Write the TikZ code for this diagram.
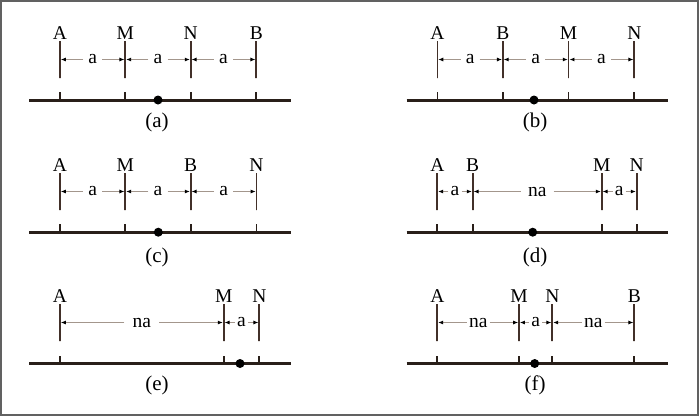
\documentclass[tikz,border=0pt]{standalone}
\usepackage{fontspec}
\setmainfont{Liberation Serif}
\usetikzlibrary{arrows.meta}

\definecolor{corbarra}{rgb}{0.16,0.12,0.10}
\definecolor{corposte}{rgb}{0.26,0.19,0.16}
\definecolor{corcota}{rgb}{0.64,0.59,0.55}
\definecolor{cormoldura}{rgb}{0.38,0.38,0.38}

\begin{document}
\begin{tikzpicture}[x=1pt, y=-1pt, font=\fontsize{19.5}{22}\selectfont,
        every label/.append style={inner sep=0pt},
        poste/.style={draw=corposte, line width=1.7pt, minimum height=37pt, minimum width=0pt, inner sep=0pt, label distance=4pt},
        rotulo/.style={inner xsep=5pt, inner ysep=0pt},
        cota/.style={draw=corcota, line width=0.9pt, -{Latex[color=black, length=5pt, width=4pt]}},
        eixo/.style={draw=corbarra, line width=3pt},
        risco/.style={draw=corbarra, line width=1.7pt},
        ponto/.style={circle, fill=black, inner sep=0pt, minimum size=9pt},
        legenda/.style={font=\fontsize{21}{24}\selectfont}]
            \useasboundingbox (0,0) rectangle (700,416);
            \draw[cormoldura, line width=2.2pt] (1.1,1.1) rectangle (697.6,414.6);

            % (a)
            \node[poste, label=above:A] (aA) at (60,59.5) {};
            \node[poste, label=above:M] (aM) at (125.3,59.5) {};
            \node[poste, label=above:N] (aN) at (190.7,59.5) {};
            \node[poste, label=above:B] (aB) at (256.3,59.5) {};
            \node[rotulo] (a1) at (92.6,59.5) {a};
            \node[rotulo] (a2) at (158,59.5) {a};
            \node[rotulo] (a3) at (223.5,59.5) {a};
            \draw[cota] (a1) -- (aA); \draw[cota] (a1) -- (aM);
            \draw[cota] (a2) -- (aM); \draw[cota] (a2) -- (aN);
            \draw[cota] (a3) -- (aN); \draw[cota] (a3) -- (aB);
            \coordinate (aL) at (29,100); \coordinate (aR) at (291,100);
            \draw[eixo] (aL) -- (aR);
            \draw[risco] (aA |- aL) -- ++(0,-8) (aM |- aL) -- ++(0,-8) (aN |- aL) -- ++(0,-8) (aB |- aL) -- ++(0,-8);
            \node[ponto] (aO) at (158,100) {};
            \node[legenda] (acap) at (157,122.5) {(a)};

            % (b)
            \node[poste, label=above:A] (bA) at (437.4,59.5) {};
            \node[poste, label=above:B] (bB) at (502.8,59.5) {};
            \node[poste, label=above:M] (bM) at (568.6,59.5) {};
            \node[poste, label=above:N] (bN) at (634.3,59.5) {};
            \node[rotulo] (b1) at (470.1,59.5) {a};
            \node[rotulo] (b2) at (535.7,59.5) {a};
            \node[rotulo] (b3) at (601.5,59.5) {a};
            \draw[cota] (b1) -- (bA); \draw[cota] (b1) -- (bB);
            \draw[cota] (b2) -- (bB); \draw[cota] (b2) -- (bM);
            \draw[cota] (b3) -- (bM); \draw[cota] (b3) -- (bN);
            \coordinate (bL) at (406.5,100); \coordinate (bR) at (668,100);
            \draw[eixo] (bL) -- (bR);
            \draw[risco] (bA |- bL) -- ++(0,-8) (bB |- bL) -- ++(0,-8) (bM |- bL) -- ++(0,-8) (bN |- bL) -- ++(0,-8);
            \node[ponto] (bO) at (534,100) {};
            \node[legenda] (bcap) at (535,122.5) {(b)};

            % (c)
            \node[poste, label=above:A] (cA) at (60,191.5) {};
            \node[poste, label=above:M] (cM) at (125.3,191.5) {};
            \node[poste, label=above:B] (cB) at (190.7,191.5) {};
            \node[poste, label=above:N] (cN) at (256.5,191.5) {};
            \node[rotulo] (c1) at (92.6,191.5) {a};
            \node[rotulo] (c2) at (158,191.5) {a};
            \node[rotulo] (c3) at (223.6,191.5) {a};
            \draw[cota] (c1) -- (cA); \draw[cota] (c1) -- (cM);
            \draw[cota] (c2) -- (cM); \draw[cota] (c2) -- (cB);
            \draw[cota] (c3) -- (cB); \draw[cota] (c3) -- (cN);
            \coordinate (cL) at (29,232.2); \coordinate (cR) at (291,232.2);
            \draw[eixo] (cL) -- (cR);
            \draw[risco] (cA |- cL) -- ++(0,-8) (cM |- cL) -- ++(0,-8) (cB |- cL) -- ++(0,-8) (cN |- cL) -- ++(0,-8);
            \node[ponto] (cO) at (158.3,232.2) {};
            \node[legenda] (ccap) at (157,257) {(c)};

            % (d)
            \node[poste, label=above:A] (dA) at (437.3,191.5) {};
            \node[poste, label=above:B] (dB) at (472.7,191.5) {};
            \node[poste, label=above:M] (dM) at (601.7,191.5) {};
            \node[poste, label=above:N] (dN) at (636.7,191.5) {};
            \node[rotulo, inner xsep=2pt] (d1) at (455,191.5) {a};
            \node[rotulo, inner xsep=7pt] (d2) at (537.2,191.5) {na};
            \node[rotulo, inner xsep=2pt] (d3) at (619.2,191.5) {a};
            \draw[cota] (d1) -- (dA); \draw[cota] (d1) -- (dB);
            \draw[cota] (d2) -- (dB); \draw[cota] (d2) -- (dM);
            \draw[cota] (d3) -- (dM); \draw[cota] (d3) -- (dN);
            \coordinate (dL) at (406.5,232.2); \coordinate (dR) at (668,232.2);
            \draw[eixo] (dL) -- (dR);
            \draw[risco] (dA |- dL) -- ++(0,-8) (dB |- dL) -- ++(0,-8) (dM |- dL) -- ++(0,-8) (dN |- dL) -- ++(0,-8);
            \node[ponto] (dO) at (532.7,232.2) {};
            \node[legenda] (dcap) at (535,257) {(d)};

            % (e)
            \node[poste, label=above:A] (eA) at (60,322.5) {};
            \node[poste, label=above:M] (eM) at (223.7,322.5) {};
            \node[poste, label=above:N] (eN) at (259.3,322.5) {};
            \node[rotulo, inner xsep=8pt] (e1) at (141.9,322.5) {na};
            \node[rotulo, inner xsep=2pt] (e2) at (241.5,322.5) {a};
            \draw[cota] (e1) -- (eA); \draw[cota] (e1) -- (eM);
            \draw[cota] (e2) -- (eM); \draw[cota] (e2) -- (eN);
            \coordinate (eL) at (29,363.5); \coordinate (eR) at (291,363.5);
            \draw[eixo] (eL) -- (eR);
            \draw[risco] (eA |- eL) -- ++(0,-8) (eM |- eL) -- ++(0,-8) (eN |- eL) -- ++(0,-8);
            \node[ponto] (eO) at (240,363.5) {};
            \node[legenda] (ecap) at (157,385) {(e)};

            % (f)
            \node[poste, label=above:A] (fA) at (437.3,322.5) {};
            \node[poste, label=above:M] (fM) at (519,322.5) {};
            \node[poste, label=above:N] (fN) at (552.3,322.5) {};
            \node[poste, label=above:B] (fB) at (634.3,322.5) {};
            \node[rotulo, inner xsep=2pt] (f1) at (478.2,322.5) {na};
            \node[rotulo, inner xsep=2pt] (f2) at (535.7,322.5) {a};
            \node[rotulo, inner xsep=2pt] (f3) at (593.3,322.5) {na};
            \draw[cota] (f1) -- (fA); \draw[cota] (f1) -- (fM);
            \draw[cota] (f2) -- (fM); \draw[cota] (f2) -- (fN);
            \draw[cota] (f3) -- (fN); \draw[cota] (f3) -- (fB);
            \coordinate (fL) at (406.5,363.5); \coordinate (fR) at (668,363.5);
            \draw[eixo] (fL) -- (fR);
            \draw[risco] (fA |- fL) -- ++(0,-8) (fM |- fL) -- ++(0,-8) (fN |- fL) -- ++(0,-8) (fB |- fL) -- ++(0,-8);
            \node[ponto] (fO) at (534.7,363.5) {};
            \node[legenda] (fcap) at (535,385) {(f)};
        \end{tikzpicture}
\end{document}
